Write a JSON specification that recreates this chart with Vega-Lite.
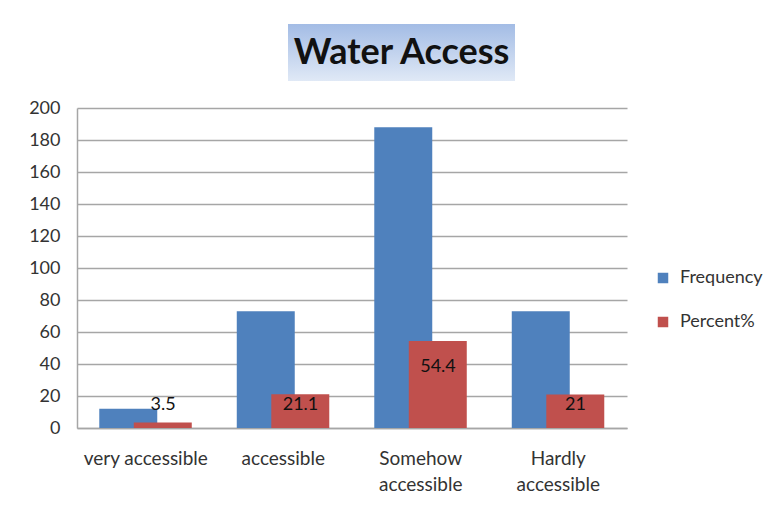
{
  "$schema": "https://vega.github.io/schema/vega-lite/v6.json",
  "padding": {"left": 28, "top": 24, "right": 5, "bottom": 5},
  "background": "white",
  "config": {
    "font": "Lato",
    "view": {"stroke": null},
    "axis": {"labelFont": "Lato", "labelFontSize": 18, "labelColor": "#333333"},
    "legend": {"labelFont": "Lato", "labelFontSize": 18, "labelColor": "#333333"}
  },
  "spacing": 18,
  "resolve": {"legend": {"color": "independent"}, "scale": {"color": "independent"}},
  "vconcat": [
    {
      "spacing": 0,
      "hconcat": [
        {
          "width": 211,
          "height": 57,
          "data": {"values": [{"t": ""}]},
          "mark": {"type": "text"},
          "encoding": {"text": {"field": "t"}}
        },
        {
          "width": 227,
          "height": 57,
          "data": {"values": [{"t": "Water Access"}]},
          "layer": [
            {
              "mark": {
                "type": "rect",
                "color": {
                  "gradient": "linear",
                  "x1": 0, "y1": 0, "x2": 0, "y2": 1,
                  "stops": [
                    {"offset": 0, "color": "#a3bce5"},
                    {"offset": 1, "color": "#e0e9f6"}
                  ]
                }
              },
              "encoding": {}
            },
            {
              "mark": {"type": "text", "fontSize": 36, "fontWeight": "bold", "font": "Lato", "color": "#111111"},
              "encoding": {"text": {"field": "t"}}
            }
          ]
        }
      ]
    },
    {
      "width": 550,
      "height": 320,
      "data": {
        "values": [
          {"category": "very accessible", "series": "Frequency", "value": 12},
          {"category": "accessible", "series": "Frequency", "value": 73},
          {"category": "Somehow accessible", "series": "Frequency", "value": 188},
          {"category": "Hardly accessible", "series": "Frequency", "value": 73},
          {"category": "very accessible", "series": "Percent%", "value": 3.5},
          {"category": "accessible", "series": "Percent%", "value": 21.1},
          {"category": "Somehow accessible", "series": "Percent%", "value": 54.4},
          {"category": "Hardly accessible", "series": "Percent%", "value": 21}
        ]
      },
      "encoding": {
        "x": {
          "field": "category",
          "type": "nominal",
          "sort": null,
          "scale": {"paddingInner": 0.498, "paddingOuter": 0.249, "align": 0.668},
          "axis": {
            "title": null,
            "labelAngle": 0,
            "ticks": false,
            "labelOffset": -11.5,
            "domainColor": "#a6a6a6",
            "domainWidth": 1.5,
            "labelFontSize": 19,
            "labelPadding": 21,
            "labelBaseline": "top",
            "labelLineHeight": 26,
            "labelExpr": "datum.label == 'very accessible' ? datum.label : split(datum.label, ' ')"
          }
        },
        "xOffset": {
          "field": "series",
          "type": "nominal",
          "scale": {"domain": ["Frequency", "Percent%"], "paddingInner": 0, "paddingOuter": 0}
        },
        "y": {
          "field": "value",
          "type": "quantitative",
          "scale": {"domain": [0, 200], "nice": false},
          "axis": {
            "title": null,
            "values": [0, 20, 40, 60, 80, 100, 120, 140, 160, 180, 200],
            "ticks": false,
            "labelPadding": 17,
            "domainColor": "#a6a6a6",
            "domainWidth": 1.5,
            "gridColor": "#a6a6a6",
            "gridWidth": 1.3
          }
        }
      },
      "layer": [
        {
          "mark": {"type": "bar", "width": {"band": 1.68}},
          "encoding": {
            "color": {
              "field": "series",
              "type": "nominal",
              "scale": {"domain": ["Frequency", "Percent%"], "range": ["#4f81bd", "#c0504d"]},
              "legend": {
                "title": " ",
                "titleFontSize": 2,
                "titlePadding": 159,
                "orient": "right",
                "offset": 27,
                "symbolType": "square",
                "symbolSize": 110,
                "symbolStrokeWidth": 0,
                "labelOffset": 8,
                "rowPadding": 26
              }
            }
          }
        },
        {
          "transform": [{"filter": "datum.series == 'Percent%' && (datum.category == 'accessible' || datum.category == 'Hardly accessible')"}],
          "mark": {"type": "text", "baseline": "middle", "dx": -11.5, "dy": 11, "fontSize": 18, "color": "#111111"},
          "encoding": {"text": {"field": "value", "type": "quantitative"}}
        },
        {
          "transform": [{"filter": "datum.series == 'Percent%' && datum.category == 'Somehow accessible'"}],
          "mark": {"type": "text", "baseline": "middle", "dx": -11.5, "dy": 26, "fontSize": 18, "color": "#111111"},
          "encoding": {"text": {"field": "value", "type": "quantitative"}}
        },
        {
          "transform": [{"filter": "datum.series == 'Percent%' && datum.category == 'very accessible'"}],
          "mark": {"type": "text", "baseline": "middle", "dx": -11.5, "dy": -17, "fontSize": 18, "color": "#111111"},
          "encoding": {"text": {"field": "value", "type": "quantitative"}}
        }
      ]
    }
  ]
}
